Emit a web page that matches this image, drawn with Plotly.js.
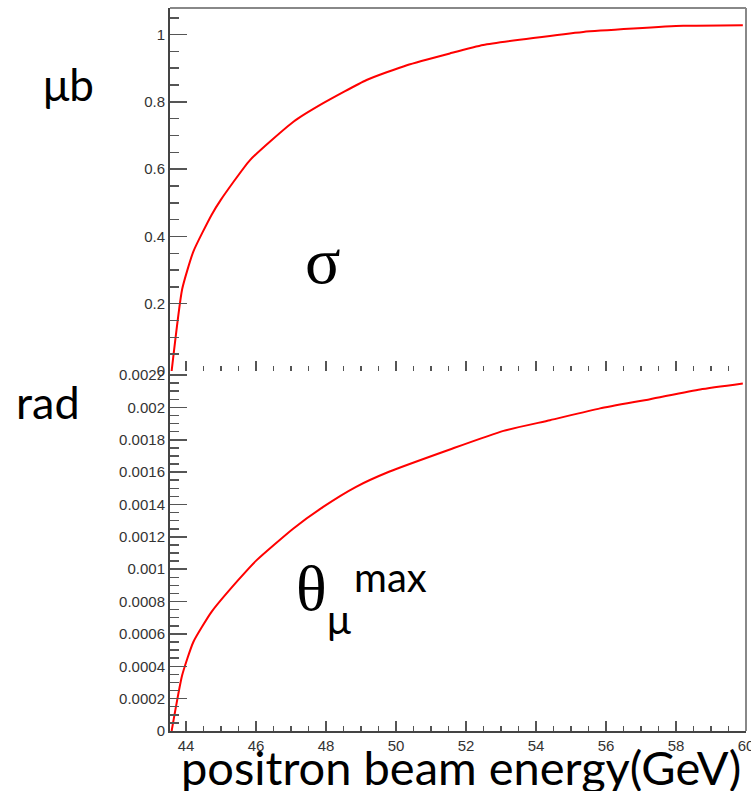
<!DOCTYPE html>
<html>
<head>
<meta charset="utf-8">
<script src="https://cdn.plot.ly/plotly-3.0.1.min.js"></script>
<style>html,body{margin:0;padding:0;background:#fff;}#chart{width:751px;height:791px;}</style>
</head>
<body>
<div id="chart"></div>
<script>
// ---- data ----
const energySigma = [43.59, 43.89, 44.21, 44.73, 44.99, 45.83, 47.07, 47.92, 49.16, 50.31, 51.54, 52.49, 53.92, 55.35, 56.78, 58.21, 59.91];
const sigmaUb     = [0, 0.243, 0.355, 0.464, 0.508, 0.627, 0.741, 0.796, 0.865, 0.909, 0.944, 0.969, 0.990, 1.008, 1.018, 1.026, 1.028];

const energyTheta = [43.59, 43.89, 44.21, 44.73, 45.49, 46.02, 47.07, 47.92, 48.86, 49.80, 51.54, 53.07, 54.40, 55.83, 57.26, 58.69, 59.91];
const thetaRad    = [0, 0.000344, 0.000550, 0.000736, 0.000932, 0.001056, 0.001252, 0.001385, 0.001509, 0.001602, 0.001740, 0.001855, 0.001921, 0.001994, 0.002051, 0.002111, 0.002148];

const sigmaTickVals = [0, 0.2, 0.4, 0.6, 0.8, 1];
const sigmaTickText = ["0", "0.2", "0.4", "0.6", "0.8", "1"];
const thetaTickVals = [0, 0.0002, 0.0004, 0.0006, 0.0008, 0.001, 0.0012, 0.0014, 0.0016, 0.0018, 0.002, 0.0022];
const thetaTickText = ["0", "0.0002", "0.0004", "0.0006", "0.0008", "0.001", "0.0012", "0.0014", "0.0016", "0.0018", "0.002", "0.0022"];

const xTitle = "positron beam energy(GeV)";
const sigmaUnit = "μb";
const thetaUnit = "rad";

// ---- layout helpers (pixel -> paper) ----
const W = 751, H = 791, L = 170, R = 5, T = 8, B = 60;
const PW = W - L - R, PH = H - T - B;
const px = p => (p - L) / PW;
const py = p => (H - B - p) / PH;
const split = py(371);

const tickFont = {family: "Liberation Sans, Arial, sans-serif", size: 15, color: "#333"};
const bigFont = s => ({family: "Lato, 'Open Sans', sans-serif", size: s, color: "#000"});
const serifFont = s => ({family: "'Liberation Serif', 'DejaVu Serif', serif", size: s, color: "#000"});

const traces = [
  {x: energySigma, y: sigmaUb, xaxis: "x2", yaxis: "y2", type: "scatter", mode: "lines",
   line: {color: "#ff0000", width: 2, shape: "spline", smoothing: 0.5}, hoverinfo: "skip"},
  {x: energyTheta, y: thetaRad, xaxis: "x", yaxis: "y", type: "scatter", mode: "lines",
   line: {color: "#ff0000", width: 2, shape: "spline", smoothing: 0.5}, hoverinfo: "skip"}
];

const xCommon = {
  range: [43.543, 60.0005], tick0: 44, dtick: 2, tickmode: "linear",
  ticks: "inside", ticklen: 10, tickwidth: 1.5, tickcolor: "#555",
  minor: {ticks: "inside", dtick: 0.5, tick0: 44, ticklen: 5, tickwidth: 1.5, tickcolor: "#555"},
  showgrid: false, zeroline: false, tickfont: tickFont
};

const layout = {
  width: W, height: H,
  margin: {l: L, r: R, t: T, b: B},
  paper_bgcolor: "#fff", plot_bgcolor: "#fff",
  showlegend: false,
  xaxis: Object.assign({}, xCommon, {anchor: "y", showline: true, linecolor: "#444", linewidth: 2, ticklabelstandoff: 0, ticklabeloverflow: "allow"}),
  xaxis2: Object.assign({}, xCommon, {anchor: "y2", matches: "x", showline: false, showticklabels: false}),
  yaxis: {
    domain: [0, split], range: [0, 0.002225],
    tickmode: "array", tickvals: thetaTickVals, ticktext: thetaTickText,
    ticks: "inside", ticklen: 17, tickwidth: 1.5, tickcolor: "#555",
    minor: {ticks: "inside", dtick: 0.00005, tick0: 0, ticklen: 9, tickwidth: 1.5, tickcolor: "#555"},
    showline: true, linecolor: "#444", linewidth: 2,
    showgrid: false, zeroline: false, tickfont: tickFont
  },
  yaxis2: {
    domain: [split, 1], range: [0, 1.079],
    tickmode: "array", tickvals: sigmaTickVals, ticktext: sigmaTickText,
    ticks: "inside", ticklen: 17, tickwidth: 1.5, tickcolor: "#555",
    minor: {ticks: "inside", dtick: 0.05, tick0: 0, ticklen: 9, tickwidth: 1.5, tickcolor: "#555"},
    showline: true, linecolor: "#444", linewidth: 2,
    showgrid: false, zeroline: false, tickfont: tickFont
  },
  shapes: [
    {type: "line", xref: "paper", yref: "paper", x0: 1, x1: 1, y0: 0, y1: 1, line: {color: "#888", width: 2}},
    {type: "line", xref: "paper", yref: "paper", x0: 0, x1: 1, y0: 1, y1: 1, line: {color: "#888", width: 2}}
  ],
  annotations: [
    {text: sigmaUnit, xref: "paper", yref: "paper", x: px(68), y: py(84), xanchor: "center", yanchor: "middle", showarrow: false, font: bigFont(44)},
    {text: thetaUnit, xref: "paper", yref: "paper", x: px(48), y: py(402), xanchor: "center", yanchor: "middle", showarrow: false, font: bigFont(45)},
    {text: "σ", xref: "paper", yref: "paper", x: px(323), y: py(260), xanchor: "center", yanchor: "middle", showarrow: false, font: serifFont(66)},
    {text: "θ", xref: "paper", yref: "paper", x: px(311), y: py(588), xanchor: "center", yanchor: "middle", showarrow: false, font: serifFont(64)},
    {text: "μ", xref: "paper", yref: "paper", x: px(339), y: py(619), xanchor: "center", yanchor: "middle", showarrow: false, font: bigFont(40)},
    {text: "max", xref: "paper", yref: "paper", x: px(390), y: py(577), xanchor: "center", yanchor: "middle", showarrow: false, font: bigFont(40)},
    {text: xTitle, xref: "paper", yref: "paper", x: px(461), y: py(767), xanchor: "center", yanchor: "middle", showarrow: false, font: bigFont(47)}
  ]
};

Plotly.newPlot("chart", traces, layout, {staticPlot: true, displayModeBar: false});
</script>
</body>
</html>
